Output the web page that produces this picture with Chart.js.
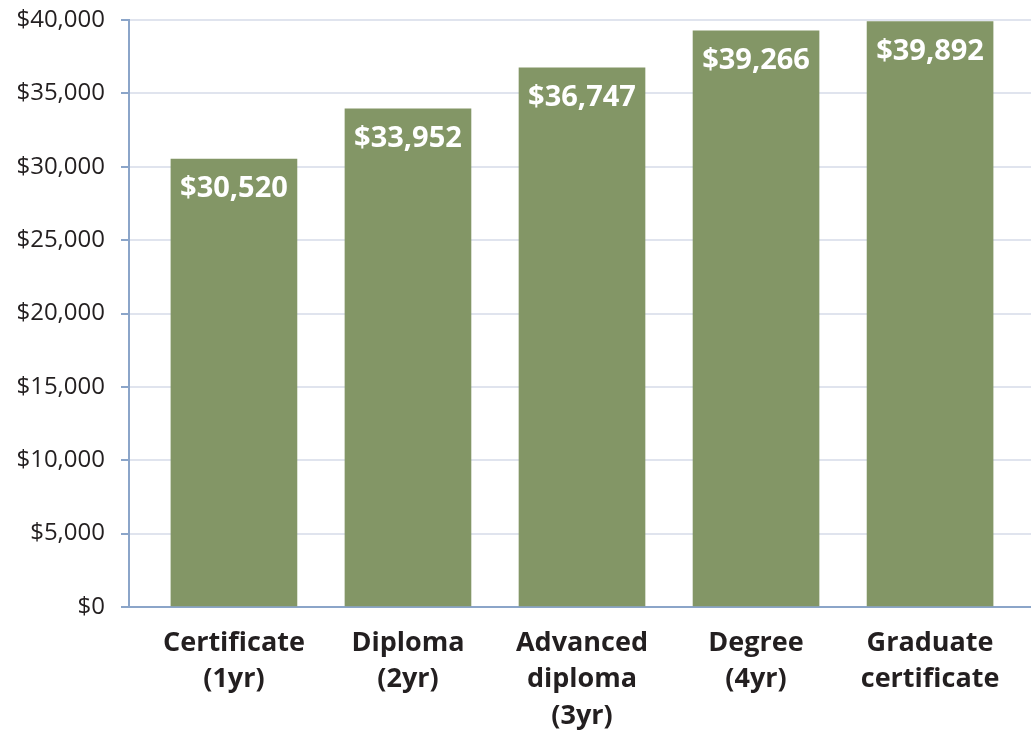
<!DOCTYPE html>
<html lang="en">
<head>
    <meta charset="UTF-8">
    <title>Earnings by credential</title>
    <script src="https://cdn.jsdelivr.net/npm/chart.js"></script>
    <style>
        * {
            margin: 0;
            padding: 0;
            box-sizing: border-box;
        }
        body {
            background-color: #fff;
            font-family: 'Open Sans', sans-serif;
        }
        .chart-container {
            width: 1031px;
            height: 734px;
        }
    </style>
</head>
<body>
    <div class="chart-container">
        <canvas id="earningsChart"></canvas>
    </div>

    <script>
        const categories = [
            ['Certificate', '(1yr)'],
            ['Diploma', '(2yr)'],
            ['Advanced', 'diploma', '(3yr)'],
            ['Degree', '(4yr)'],
            ['Graduate', 'certificate']
        ];
        const earnings = [30520, 33952, 36747, 39266, 39892];
        const yTicks = [0, 5000, 10000, 15000, 20000, 25000, 30000, 35000, 40000];

        const money = v => '$' + v.toLocaleString('en-US');

        // white value labels inside the top of each bar
        const barLabels = {
            id: 'barLabels',
            afterDatasetsDraw(chart) {
                const ctx = chart.ctx;
                const meta = chart.getDatasetMeta(0);
                ctx.save();
                ctx.fillStyle = '#fff';
                ctx.font = 'bold 29px "Open Sans", sans-serif';
                ctx.textAlign = 'center';
                ctx.textBaseline = 'middle';
                meta.data.forEach((bar, i) => {
                    ctx.fillText(money(earnings[i]), bar.x, bar.y + 30);
                });
                ctx.restore();
            }
        };

        document.addEventListener('DOMContentLoaded', () => {
            const ctx = document.getElementById('earningsChart').getContext('2d');
            new Chart(ctx, {
                type: 'bar',
                data: {
                    datasets: [{
                        data: earnings.map((v, i) => ({ x: i, y: v })),
                        backgroundColor: '#839666',
                        barThickness: 126
                    }]
                },
                options: {
                    responsive: true,
                    maintainAspectRatio: false,
                    animation: false,
                    layout: { padding: { top: 20 } },
                    plugins: {
                        legend: { display: false },
                        tooltip: { enabled: false }
                    },
                    scales: {
                        x: {
                            type: 'linear',
                            offset: false,
                            min: -0.603,
                            max: 4.58,
                            afterBuildTicks: axis => {
                                axis.ticks = categories.map((c, i) => ({ value: i }));
                            },
                            afterFit: axis => { axis.height = 127; },
                            grid: { display: false, drawTicks: false },
                            border: { display: true, color: '#8ba5c9', width: 2 },
                            ticks: {
                                autoSkip: false,
                                maxRotation: 0,
                                padding: 18,
                                color: '#231f20',
                                font: { family: 'Open Sans', size: 27, weight: 'bold', lineHeight: 1.35 },
                                callback: v => categories[v]
                            }
                        },
                        y: {
                            min: 0,
                            max: 40000,
                            afterBuildTicks: axis => {
                                axis.ticks = yTicks.map(v => ({ value: v }));
                            },
                            afterFit: axis => {
                                axis.width = 129;
                                axis.paddingTop = 0;
                                axis.paddingBottom = 0;
                            },
                            grid: {
                                color: '#e0e4ee',
                                lineWidth: 2,
                                tickColor: '#8ba5c9',
                                tickLength: 8
                            },
                            border: { color: '#8ba5c9', width: 2 },
                            ticks: {
                                padding: 16,
                                color: '#231f20',
                                font: { family: 'Open Sans', size: 24 },
                                callback: v => money(v)
                            }
                        }
                    }
                },
                plugins: [barLabels]
            });
        });
    </script>
</body>
</html>
